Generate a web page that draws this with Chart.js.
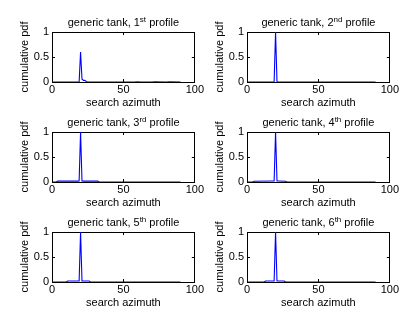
<!DOCTYPE html>
<html>
<head>
<meta charset="utf-8">
<script src="https://cdn.jsdelivr.net/npm/chart.js@4/dist/chart.umd.min.js"></script>
<style>
  body { margin: 0; background: #fff; }
  #figure { position: relative; width: 416px; height: 326px; overflow: hidden; }
  #figure canvas { position: absolute; }
</style>
</head>
<body>
<div id="figure"></div>
<script>
// profile labels for the subplot titles
var profileNumbers = ['1', '2', '3', '4', '5', '6'];
var profileSuffixes = ['st', 'nd', 'rd', 'th', 'th', 'th'];

// search azimuth (x) and cumulative pdf (y) for each profile
var azimuth1 = [0, 18, 19, 20, 21, 22, 23, 24, 25, 58, 60, 62, 70, 72, 80, 82, 90];
var pdf1     = [0, 0, 0, 0.6, 0.06, 0.03, 0.035, 0.012, 0, 0, 0.006, 0, 0, 0.006, 0, 0.006, 0];

var azimuth2 = [0, 18, 19, 20, 21, 22, 90];
var pdf2     = [0, 0, 0.004, 1, 0.004, 0, 0];

var azimuth3 = [0, 3, 4, 18, 19, 20, 21, 22, 32, 33, 90];
var pdf3     = [0, 0, 0.018, 0.018, 0.02, 1, 0.02, 0.018, 0.018, 0, 0];

var azimuth4 = [0, 4, 5, 18, 19, 20, 21, 22, 27, 28, 90];
var pdf4     = [0, 0, 0.015, 0.02, 0.02, 1, 0.02, 0.02, 0.015, 0, 0];

var azimuth5 = [0, 10, 11, 18, 19, 20, 21, 22, 26, 27, 90];
var pdf5     = [0, 0, 0.02, 0.02, 0.02, 1, 0.02, 0.02, 0.02, 0, 0];

var azimuth6 = [0, 12, 13, 18, 19, 20, 21, 22, 26, 27, 90];
var pdf6     = [0, 0, 0.02, 0.02, 0.02, 1, 0.02, 0.02, 0.02, 0, 0];

var azimuthSets = [azimuth1, azimuth2, azimuth3, azimuth4, azimuth5, azimuth6];
var pdfSets = [pdf1, pdf2, pdf3, pdf4, pdf5, pdf6];

var xTicks = [0, 50, 100];
var yTicks = [0, 0.5, 1];

var FONT = 'Liberation Sans, Arial, Helvetica, sans-serif';

// subplot title with a superscript ordinal, drawn above the axes box
var subplotTitle = {
    id: 'subplotTitle',
    afterDraw: function(chart, args, opts) {
        var ctx = chart.ctx;
        var area = chart.chartArea;
        var parts = [opts.head, opts.sup, opts.tail];
        ctx.save();
        ctx.fillStyle = '#000';
        ctx.textBaseline = 'alphabetic';
        ctx.font = '11px ' + FONT;
        var w0 = ctx.measureText(parts[0]).width;
        var w2 = ctx.measureText(parts[2]).width;
        ctx.font = '8px ' + FONT;
        var w1 = ctx.measureText(parts[1]).width;
        var x = (area.left + area.right) / 2 - (w0 + w1 + w2) / 2;
        var y = area.top - 6;
        ctx.font = '11px ' + FONT;
        ctx.textAlign = 'left';
        ctx.fillText(parts[0], x, y);
        ctx.font = '8px ' + FONT;
        ctx.fillText(parts[1], x + w0, y - 4);
        ctx.font = '11px ' + FONT;
        ctx.fillText(parts[2], x + w0 + w1, y);
        ctx.restore();
    }
};

function plainLabel(value) {
    return String(value);
}

function makePanel(index) {
    var col = index % 2;
    var row = Math.floor(index / 2);
    var canvas = document.createElement('canvas');
    canvas.width = 208;
    canvas.height = 110;
    canvas.style.left = (col === 0 ? 0 : 195) + 'px';
    canvas.style.top = (row * 100) + 'px';
    document.getElementById('figure').appendChild(canvas);

    var points = azimuthSets[index].map(function(a, i) {
        return { x: a, y: pdfSets[index][i] };
    });

    var inward = { drawOnChartArea: false, drawTicks: true, tickLength: -3, color: '#000', lineWidth: 1 };
    var frame = { display: true, color: '#000', width: 1 };

    new Chart(canvas, {
        type: 'line',
        data: {
            datasets: [{
                data: points,
                borderColor: '#0000ff',
                borderWidth: 1.1,
                pointRadius: 0,
                tension: 0,
                fill: false
            }]
        },
        options: {
            responsive: false,
            animation: false,
            devicePixelRatio: 1,
            layout: { padding: { left: 18, right: col === 0 ? 9 : 8, top: 32, bottom: 0 } },
            plugins: {
                legend: { display: false },
                tooltip: { enabled: false },
                subplotTitle: {
                    head: 'generic tank, ' + profileNumbers[index],
                    sup: profileSuffixes[index],
                    tail: ' profile'
                }
            },
            scales: {
                x: {
                    type: 'linear', position: 'bottom', min: 0, max: 100,
                    afterBuildTicks: function(s) { s.ticks = xTicks.map(function(v) { return { value: v }; }); },
                    afterFit: function(s) { s.height = 28; },
                    grid: inward, border: frame,
                    ticks: { color: '#000', padding: 4, maxRotation: 0, callback: plainLabel, font: { family: FONT, size: 11 } },
                    title: { display: true, text: 'search azimuth', color: '#000', padding: 0, font: { family: FONT, size: 11 } }
                },
                x2: {
                    type: 'linear', position: 'top', min: 0, max: 100,
                    afterBuildTicks: function(s) { s.ticks = xTicks.map(function(v) { return { value: v }; }); },
                    afterFit: function(s) { s.height = 0; },
                    grid: inward, border: frame,
                    ticks: { display: false }
                },
                y: {
                    type: 'linear', position: 'left', min: 0, max: 1,
                    afterBuildTicks: function(s) { s.ticks = yTicks.map(function(v) { return { value: v }; }); },
                    afterFit: function(s) { s.width = 34; },
                    grid: inward, border: frame,
                    ticks: { color: '#000', padding: 6, callback: plainLabel, font: { family: FONT, size: 11 } },
                    title: { display: true, text: 'cumulative pdf', color: '#000', padding: 0, font: { family: FONT, size: 11 } }
                },
                y2: {
                    type: 'linear', position: 'right', min: 0, max: 1,
                    afterBuildTicks: function(s) { s.ticks = yTicks.map(function(v) { return { value: v }; }); },
                    afterFit: function(s) { s.width = 0; },
                    grid: inward, border: frame,
                    ticks: { display: false }
                }
            }
        },
        plugins: [subplotTitle]
    });
}

for (var p = 0; p < 6; p++) {
    makePanel(p);
}
</script>
</body>
</html>
